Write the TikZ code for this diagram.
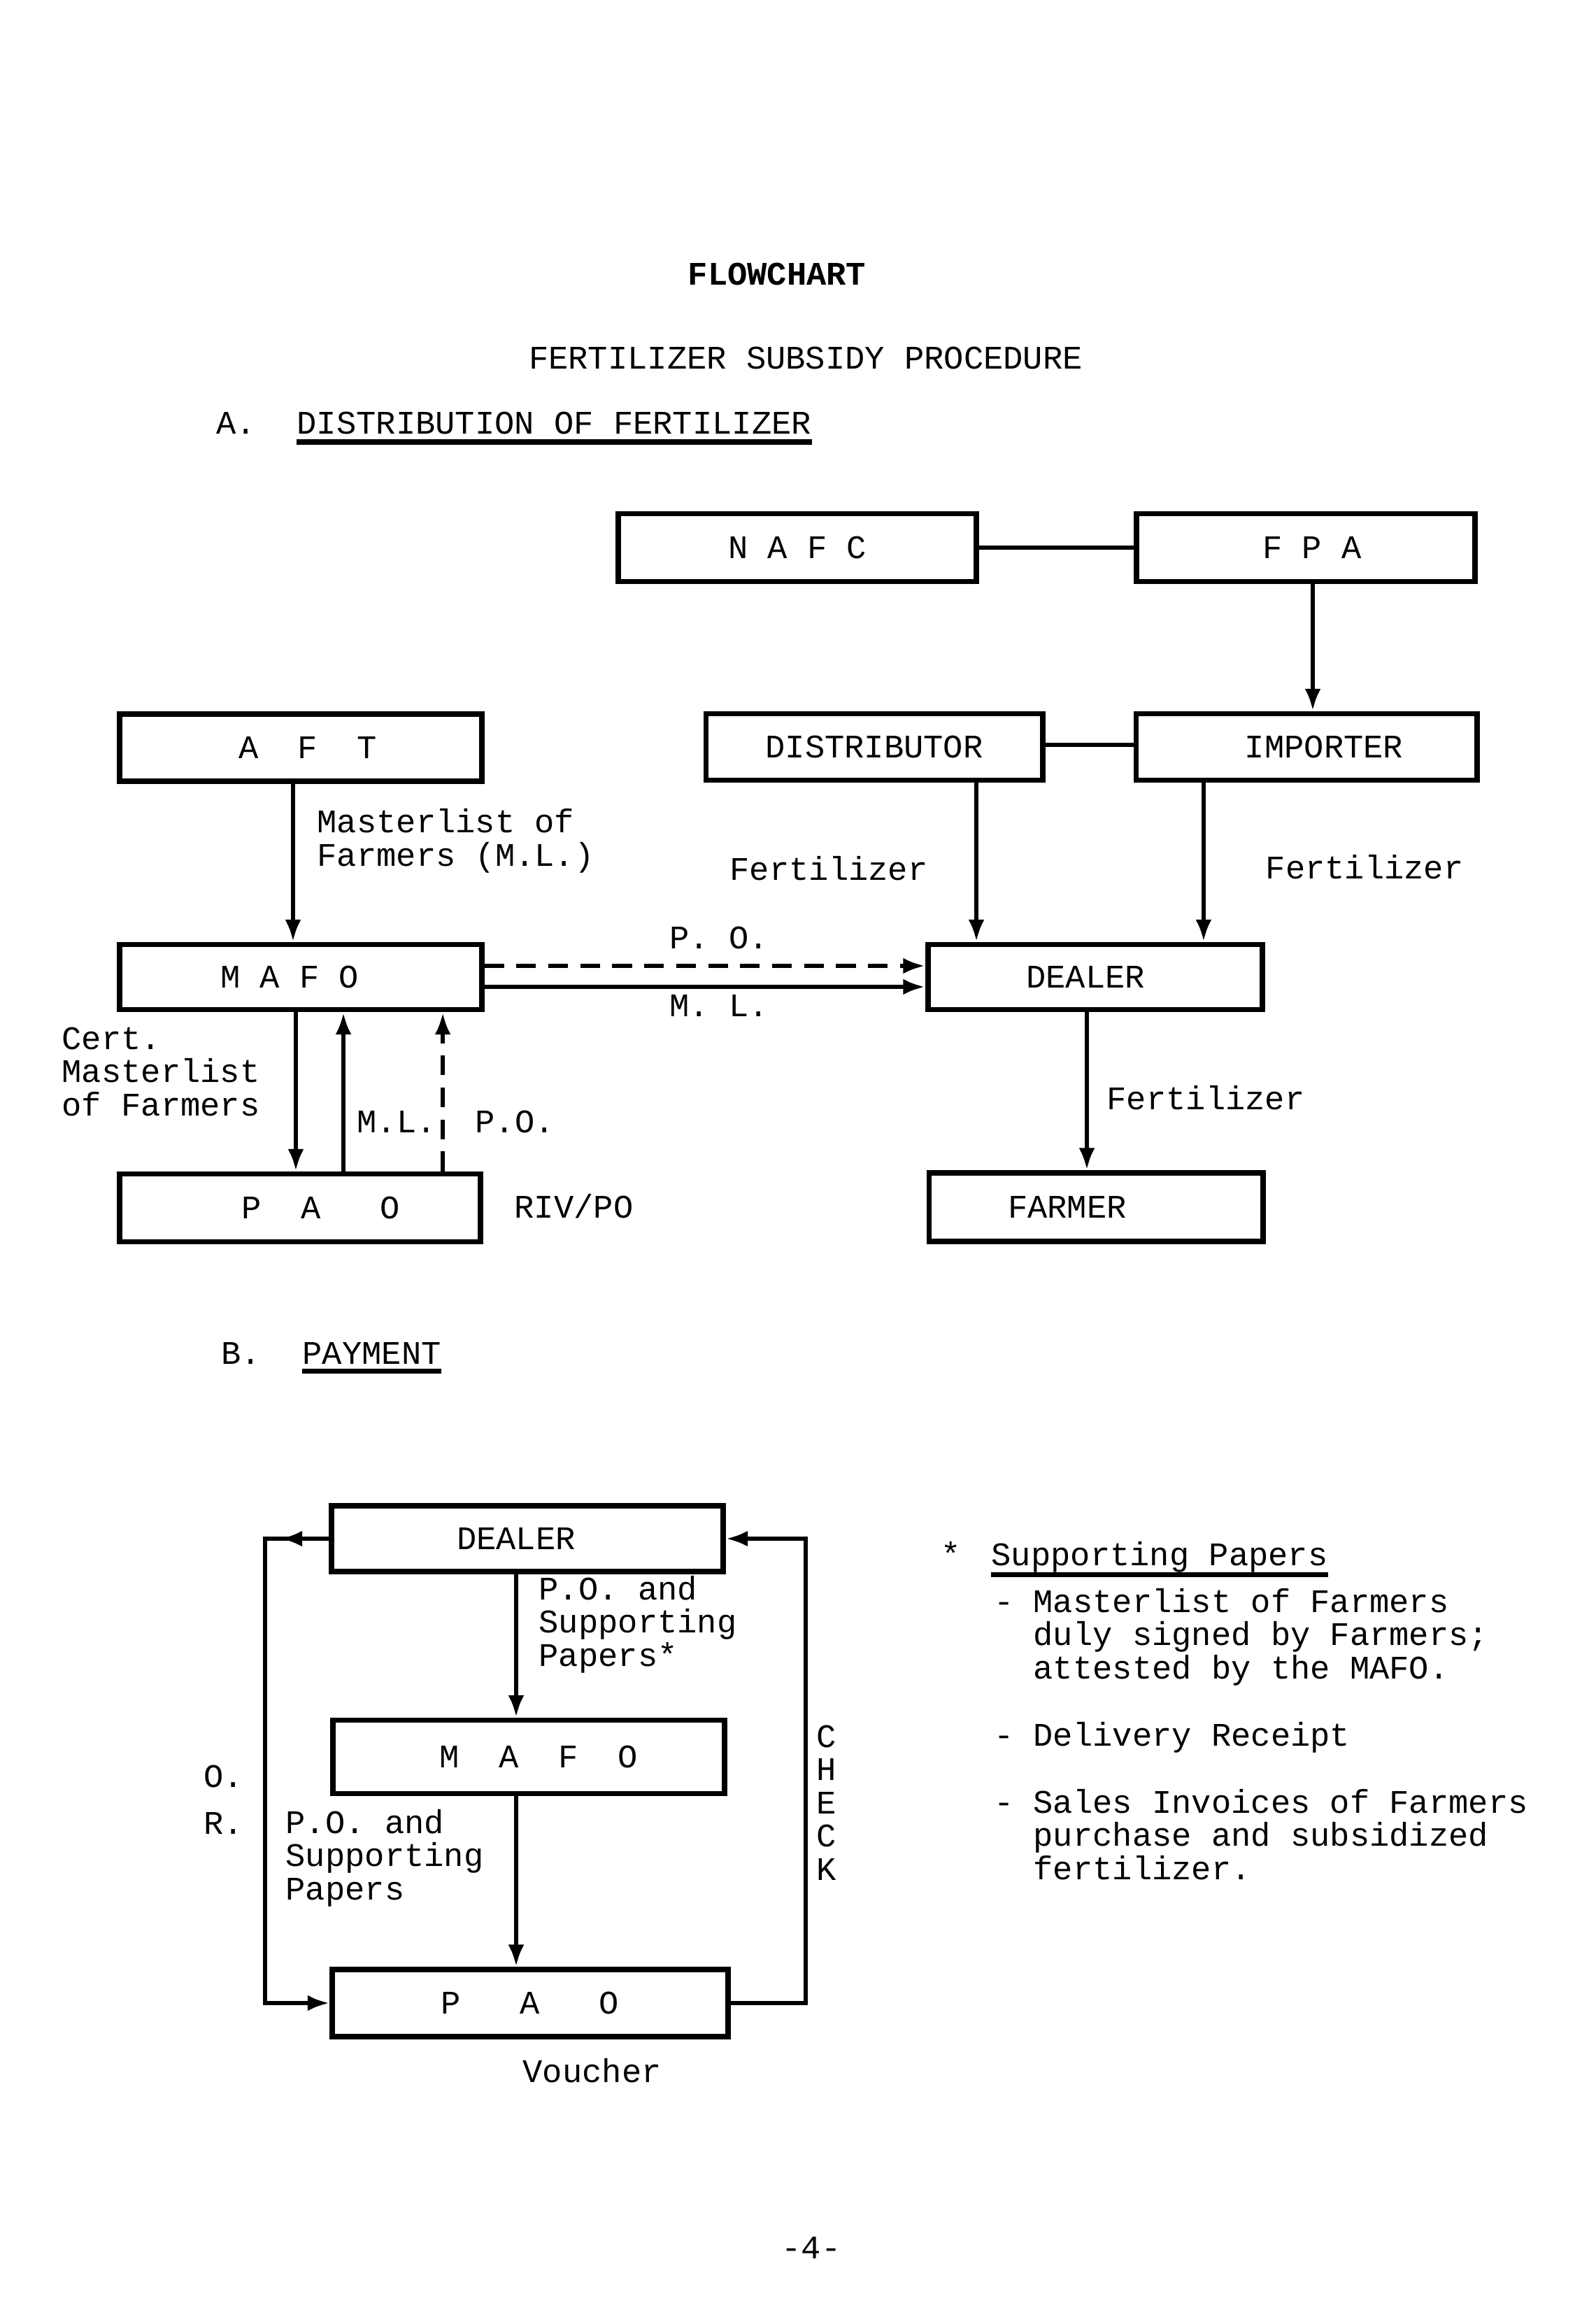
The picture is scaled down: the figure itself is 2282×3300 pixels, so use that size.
\documentclass[tikz,border=0pt]{standalone}
\usepackage{fontspec}
\setmainfont{Liberation Mono}
\usetikzlibrary{arrows.meta,decorations.markings}
\begin{document}
\begin{tikzpicture}[x=0.01cm,y=-0.01cm,
  every node/.style={font=\fontsize{13.4}{13.5}\selectfont, inner sep=0pt},
  box/.style={draw, line width=2.2pt, inner sep=0pt},
  ln/.style={line width=1.8pt},
  tip/.style={-{Latex[length=9pt,width=6.5pt]}},
  arr/.style={ln, tip},
  dsh/.style={dash pattern=on 8pt off 5pt},
  lbl/.style={anchor=base west, align=left},
  ul/.style={line width=2pt}
]
\fill[white] (0,0) rectangle (2282,3300);
\useasboundingbox (0,0) rectangle (2282,3300);

% titles
\node[font=\fontsize{13.4}{13.5}\selectfont\bfseries] (title) at (1111,392) {FLOWCHART};
\node (subtitle) at (1152,512) {FERTILIZER SUBSIDY PROCEDURE};
\node[lbl] (secA) at (309,620) {A.};
\node[lbl] (secAt) at (424,620) {DISTRIBUTION OF FERTILIZER};
\draw[ul] ([yshift=-0.12cm]secAt.base west) -- ([yshift=-0.12cm]secAt.base east);

% section A boxes
\node[box, minimum width=5.12cm, minimum height=0.97cm] (nafc) at (1140,783) {N A F C};
\node[box, minimum width=4.84cm, minimum height=0.97cm] (fpa) at (1867,783) {\hspace*{0.18cm}F P A};
\node[box, minimum width=5.17cm, minimum height=0.96cm] (aft) at (430,1069) {\hspace*{0.2cm}A~~F~~T};
\node[box, minimum width=4.81cm, minimum height=0.95cm] (dist) at (1250,1068) {DISTRIBUTOR};
\node[box, minimum width=4.87cm, minimum height=0.95cm] (imp) at (1868,1068) {\hspace*{0.5cm}IMPORTER};
\node[box, minimum width=5.17cm, minimum height=0.93cm] (mafoa) at (430,1397) {M A F O\hspace*{0.32cm}};
\node[box, minimum width=4.78cm, minimum height=0.93cm] (dealera) at (1566,1397) {DEALER\hspace*{0.28cm}};
\node[box, minimum width=5.16cm, minimum height=0.97cm] (paoa) at (429,1727) {\hspace*{0.6cm}P~~A~~~O};
\node[box, minimum width=4.77cm, minimum height=0.98cm] (farmer) at (1567,1726) {FARMER\hspace*{0.82cm}};

% section A connectors
\draw[ln] (nafc.east) -- (fpa.west);
\draw[arr] ([xshift=0.1cm]fpa.south) -- ([xshift=0.1cm]fpa.south |- imp.north);
\draw[ln] ([yshift=0.03cm]dist.east) -- ([yshift=0.03cm]dist.east -| imp.west);
\draw[arr] ([xshift=-0.11cm]aft.south) -- ([xshift=-0.11cm]aft.south |- mafoa.north);
\draw[arr] ([xshift=1.46cm]dist.south) -- ([xshift=1.46cm]dist.south |- dealera.north);
\draw[arr] ([xshift=-1.47cm]imp.south) -- ([xshift=-1.47cm]imp.south |- dealera.north);
\draw[arr] ([xshift=-0.12cm]dealera.south) -- ([xshift=-0.12cm]dealera.south |- farmer.north);
\draw[arr, dsh] ([yshift=0.16cm]mafoa.east) -- ([yshift=0.16cm]mafoa.east -| dealera.west);
\draw[arr] ([yshift=-0.14cm]mafoa.east) -- ([yshift=-0.14cm]mafoa.east -| dealera.west);
\draw[arr] ([xshift=-0.07cm]mafoa.south) -- ([xshift=-0.07cm]mafoa.south |- paoa.north);
\draw[arr] ([xshift=0.61cm]mafoa.south |- paoa.north) -- ([xshift=0.61cm]mafoa.south);
\draw[arr, dsh] ([xshift=2.03cm]mafoa.south |- paoa.north) -- ([xshift=2.03cm]mafoa.south);

% section A labels (multi-line nodes: base = last line)
\node[lbl] (lml) at (453,1238) {Masterlist of\\Farmers (M.L.)};
\node[lbl] (lf1) at (1043,1258) {Fertilizer};
\node[lbl] (lf2) at (1809,1256) {Fertilizer};
\node[lbl] (lpo) at (957,1356) {P. O.};
\node[lbl] (lml2) at (957,1453) {M. L.};
\node[lbl] (lcert) at (88,1595) {Cert.\\Masterlist\\of Farmers};
\node[lbl] (lml3) at (510,1619) {M.L.};
\node[lbl] (lpo3) at (679,1619) {P.O.};
\node[lbl] (lriv) at (735,1741) {RIV/PO};
\node[lbl] (lf3) at (1582,1586) {Fertilizer};

% section B
\node[lbl] (secB) at (316,1950) {B.};
\node[lbl] (secBt) at (432,1950) {PAYMENT};
\draw[ul] ([yshift=-0.1cm]secBt.base west) -- ([yshift=-0.1cm]secBt.base east);

\node[box, minimum width=5.59cm, minimum height=0.94cm] (dealerb) at (754,2200) {DEALER\hspace*{0.32cm}};
\node[box, minimum width=5.60cm, minimum height=1.05cm] (mafob) at (756,2512) {\hspace*{0.28cm}M~~A~~F~~O};
\node[box, minimum width=5.65cm, minimum height=0.96cm] (paob) at (758,2864) {P~~~A~~~O};

\coordinate (lx) at (379,2202);
\coordinate (rx) at (1152,2202);

\draw[arr] ([xshift=-0.16cm]dealerb.south) -- ([xshift=-0.16cm]dealerb.south |- mafob.north);
\draw[arr] ([xshift=-0.18cm]mafob.south) -- ([xshift=-0.18cm]mafob.south |- paob.north);
\draw[arr, postaction={decorate},
  decoration={markings, mark=at position 0.7cm with {\arrow{Latex[length=9pt,width=6.5pt]}}}]
  (dealerb.west) -| (lx |- paob.west) -- (paob.west);
\draw[arr] (paob.east) -| (rx |- dealerb.east) -- (dealerb.east);

\node[lbl] (lpb1) at (770,2382) {P.O. and\\Supporting\\Papers*};
\node[lbl] (lpb2) at (408,2716) {P.O. and\\Supporting\\Papers};
\node[lbl] (lo) at (291,2555) {O.};
\node[lbl] (lr) at (291,2622) {R.};
\node[anchor=base, align=center] (lcheck) at (1182,2688) {C\\H\\E\\C\\K};
\node[lbl] (lvouch) at (747,2977) {Voucher};

% notes
\node[lbl] (nstar) at (1345,2238) {*};
\node[lbl] (nhead) at (1417,2238) {Supporting Papers};
\draw[ul] ([yshift=-0.13cm]nhead.base west) -- ([yshift=-0.13cm]nhead.base east);
\node[lbl] (nd1) at (1421,2305) {-};
\node[lbl] (nt1) at (1477,2400) {Masterlist of Farmers\\duly signed by Farmers;\\attested by the MAFO.};
\node[lbl] (nd2) at (1421,2496) {-};
\node[lbl] (nt2) at (1477,2496) {Delivery Receipt};
\node[lbl] (nd3) at (1421,2592) {-};
\node[lbl] (nt3) at (1477,2687) {Sales Invoices of Farmers\\purchase and subsidized\\fertilizer.};

\node (page) at (1160,3214) {-4-};
\end{tikzpicture}
\end{document}
